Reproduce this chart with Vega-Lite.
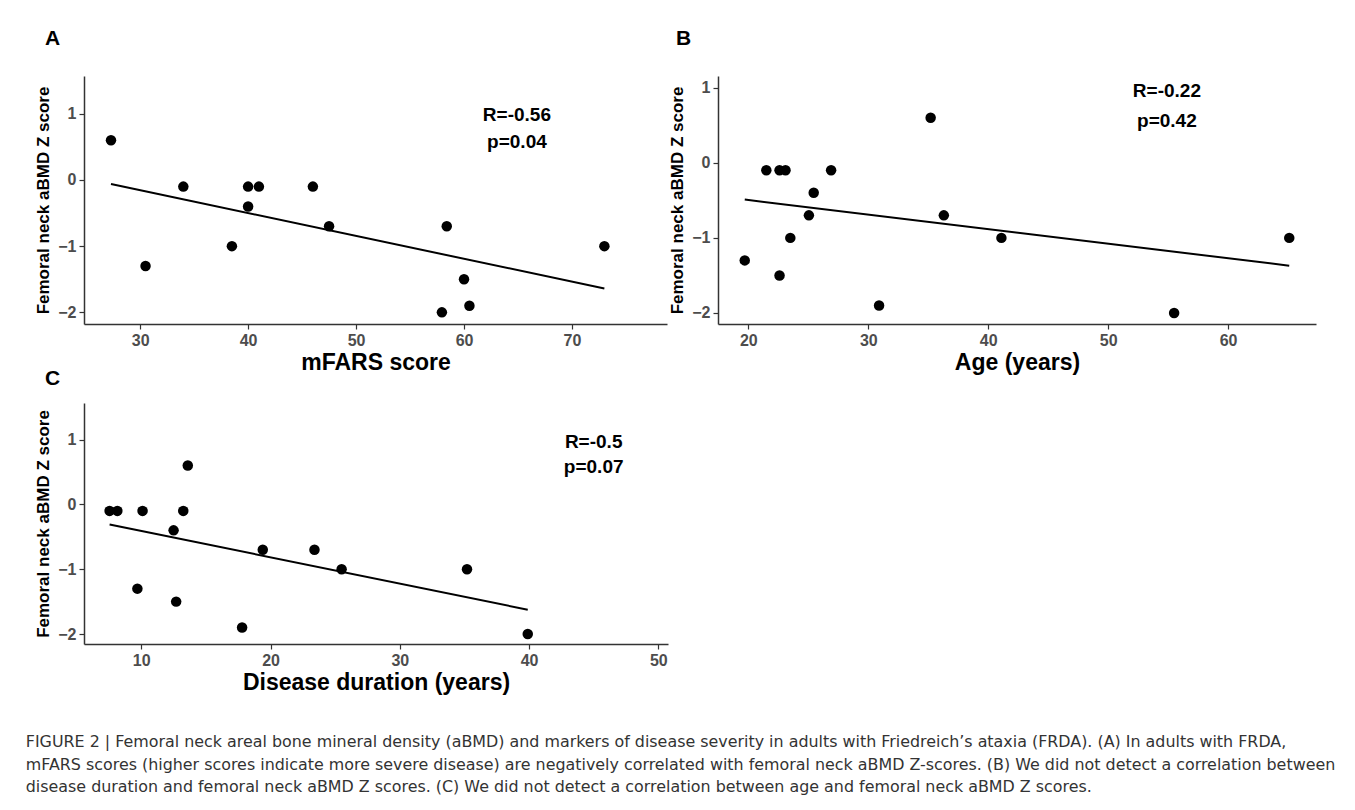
{
  "$schema": "https://vega.github.io/schema/vega-lite/v6.json",
  "padding": {"left": 25, "top": 28, "right": 5, "bottom": 5},
  "bounds": "flush",
  "columns": 2,
  "spacing": {"row": 79, "column": 50},
  "title": {
    "text": [
      "FIGURE 2 | Femoral neck areal bone mineral density (aBMD) and markers of disease severity in adults with Friedreich’s ataxia (FRDA). (A) In adults with FRDA,",
      "mFARS scores (higher scores indicate more severe disease) are negatively correlated with femoral neck aBMD Z-scores. (B) We did not detect a correlation between",
      "disease duration and femoral neck aBMD Z scores. (C) We did not detect a correlation between age and femoral neck aBMD Z scores."
    ],
    "orient": "bottom",
    "anchor": "start",
    "frame": "bounds",
    "font": "DejaVu Sans",
    "fontSize": 15.9,
    "fontWeight": "normal",
    "lineHeight": 22.5,
    "color": "#333333",
    "offset": 40,
    "dx": -9
  },
  "datasets": {
    "a_pts": [
      {"x": 27.3, "z": 0.6}, {"x": 30.5, "z": -1.3}, {"x": 34.0, "z": -0.1}, {"x": 38.5, "z": -1.0},
      {"x": 40.0, "z": -0.1}, {"x": 40.0, "z": -0.4}, {"x": 41.0, "z": -0.1}, {"x": 46.0, "z": -0.1},
      {"x": 47.5, "z": -0.7}, {"x": 58.4, "z": -0.7}, {"x": 57.95, "z": -2.0}, {"x": 60.0, "z": -1.5},
      {"x": 60.5, "z": -1.9}, {"x": 73.0, "z": -1.0}
    ],
    "a_fit": [{"x": 27.3, "z": -0.06}, {"x": 73.0, "z": -1.64}],
    "a_lab": [{"x": 64.9, "z": 0.98, "t": "R=-0.56"}, {"x": 64.9, "z": 0.58, "t": "p=0.04"}],
    "b_pts": [
      {"x": 19.7, "z": -1.3}, {"x": 21.5, "z": -0.1}, {"x": 22.6, "z": -0.1}, {"x": 23.1, "z": -0.1},
      {"x": 22.6, "z": -1.5}, {"x": 23.5, "z": -1.0}, {"x": 25.05, "z": -0.7}, {"x": 25.45, "z": -0.4},
      {"x": 26.9, "z": -0.1}, {"x": 30.9, "z": -1.9}, {"x": 35.2, "z": 0.6}, {"x": 36.3, "z": -0.7},
      {"x": 41.1, "z": -1.0}, {"x": 55.5, "z": -2.0}, {"x": 65.1, "z": -1.0}
    ],
    "b_fit": [{"x": 19.7, "z": -0.49}, {"x": 65.1, "z": -1.37}],
    "b_lab": [{"x": 54.9, "z": 0.96, "t": "R=-0.22"}, {"x": 54.9, "z": 0.56, "t": "p=0.42"}],
    "c_pts": [
      {"x": 7.55, "z": -0.1}, {"x": 8.15, "z": -0.1}, {"x": 10.1, "z": -0.1}, {"x": 9.7, "z": -1.3},
      {"x": 12.5, "z": -0.4}, {"x": 12.7, "z": -1.5}, {"x": 13.25, "z": -0.1}, {"x": 13.6, "z": 0.6},
      {"x": 17.8, "z": -1.9}, {"x": 19.4, "z": -0.7}, {"x": 23.4, "z": -0.7}, {"x": 25.5, "z": -1.0},
      {"x": 35.2, "z": -1.0}, {"x": 39.9, "z": -2.0}
    ],
    "c_fit": [{"x": 7.55, "z": -0.31}, {"x": 39.9, "z": -1.625}],
    "c_lab": [{"x": 45.0, "z": 0.97, "t": "R=-0.5"}, {"x": 45.0, "z": 0.57, "t": "p=0.07"}]
  },
  "concat": [
    {
      "width": 583, "height": 248,
      "title": {"text": "A", "frame": "group", "dx": -39, "offset": 27},
      "layer": [
        {
          "data": {"name": "a_pts"},
          "mark": {"type": "circle", "size": 110, "color": "#000000", "opacity": 1},
          "encoding": {
            "x": {"field": "x", "type": "quantitative", "scale": {"domain": [24.8, 78.8], "nice": false, "zero": false}, "axis": {"values": [30, 40, 50, 60, 70], "title": "mFARS score"}},
            "y": {"field": "z", "type": "quantitative", "scale": {"domain": [-2.176, 1.571], "nice": false, "zero": false}, "axis": {"values": [-2, -1, 0, 1], "format": "d", "title": "Femoral neck aBMD Z score"}}
          }
        },
        {
          "data": {"name": "a_fit"},
          "mark": {"type": "line", "color": "#000000", "strokeWidth": 2},
          "encoding": {"x": {"field": "x", "type": "quantitative"}, "y": {"field": "z", "type": "quantitative"}}
        },
        {
          "data": {"name": "a_lab"},
          "mark": {"type": "text", "font": "Liberation Sans", "fontSize": 19, "fontWeight": "bold", "color": "#000000", "align": "center", "baseline": "middle"},
          "encoding": {"x": {"field": "x", "type": "quantitative"}, "y": {"field": "z", "type": "quantitative"}, "text": {"field": "t"}}
        }
      ]
    },
    {
      "width": 598, "height": 248,
      "title": {"text": "B", "frame": "group", "dx": -42, "offset": 27},
      "layer": [
        {
          "data": {"name": "b_pts"},
          "mark": {"type": "circle", "size": 110, "color": "#000000", "opacity": 1},
          "encoding": {
            "x": {"field": "x", "type": "quantitative", "scale": {"domain": [17.47, 67.33], "nice": false, "zero": false}, "axis": {"values": [20, 30, 40, 50, 60], "title": "Age (years)"}},
            "y": {"field": "z", "type": "quantitative", "scale": {"domain": [-2.147, 1.156], "nice": false, "zero": false}, "axis": {"values": [-2, -1, 0, 1], "format": "d", "title": "Femoral neck aBMD Z score"}}
          }
        },
        {
          "data": {"name": "b_fit"},
          "mark": {"type": "line", "color": "#000000", "strokeWidth": 2},
          "encoding": {"x": {"field": "x", "type": "quantitative"}, "y": {"field": "z", "type": "quantitative"}}
        },
        {
          "data": {"name": "b_lab"},
          "mark": {"type": "text", "font": "Liberation Sans", "fontSize": 19, "fontWeight": "bold", "color": "#000000", "align": "center", "baseline": "middle"},
          "encoding": {"x": {"field": "x", "type": "quantitative"}, "y": {"field": "z", "type": "quantitative"}, "text": {"field": "t"}}
        }
      ]
    },
    {
      "width": 584, "height": 241,
      "title": {"text": "C", "frame": "group", "dx": -39, "offset": 14},
      "layer": [
        {
          "data": {"name": "c_pts"},
          "mark": {"type": "circle", "size": 110, "color": "#000000", "opacity": 1},
          "encoding": {
            "x": {"field": "x", "type": "quantitative", "scale": {"domain": [5.57, 50.75], "nice": false, "zero": false}, "axis": {"values": [10, 20, 30, 40, 50], "title": "Disease duration (years)"}},
            "y": {"field": "z", "type": "quantitative", "scale": {"domain": [-2.154, 1.565], "nice": false, "zero": false}, "axis": {"values": [-2, -1, 0, 1], "format": "d", "title": "Femoral neck aBMD Z score"}}
          }
        },
        {
          "data": {"name": "c_fit"},
          "mark": {"type": "line", "color": "#000000", "strokeWidth": 2},
          "encoding": {"x": {"field": "x", "type": "quantitative"}, "y": {"field": "z", "type": "quantitative"}}
        },
        {
          "data": {"name": "c_lab"},
          "mark": {"type": "text", "font": "Liberation Sans", "fontSize": 19, "fontWeight": "bold", "color": "#000000", "align": "center", "baseline": "middle"},
          "encoding": {"x": {"field": "x", "type": "quantitative"}, "y": {"field": "z", "type": "quantitative"}, "text": {"field": "t"}}
        }
      ]
    }
  ],
  "config": {
    "background": "#ffffff",
    "view": {"stroke": null},
    "axis": {
      "grid": false,
      "domainColor": "#333333",
      "domainWidth": 1.5,
      "tickColor": "#333333",
      "tickSize": 5,
      "tickWidth": 1.2,
      "labelFont": "Liberation Sans",
      "labelFontSize": 16,
      "labelFontWeight": "bold",
      "labelColor": "#4d4d4d",
      "titleFont": "Liberation Sans",
      "titleFontWeight": "bold",
      "titleColor": "#000000"
    },
    "axisX": {"titleFontSize": 23, "labelPadding": 3, "titlePadding": 3},
    "axisY": {"titleFontSize": 17, "labelPadding": 3, "titlePadding": 5},
    "title": {"font": "Liberation Sans", "fontSize": 21, "fontWeight": "bold", "color": "#000000", "anchor": "start"}
  }
}
